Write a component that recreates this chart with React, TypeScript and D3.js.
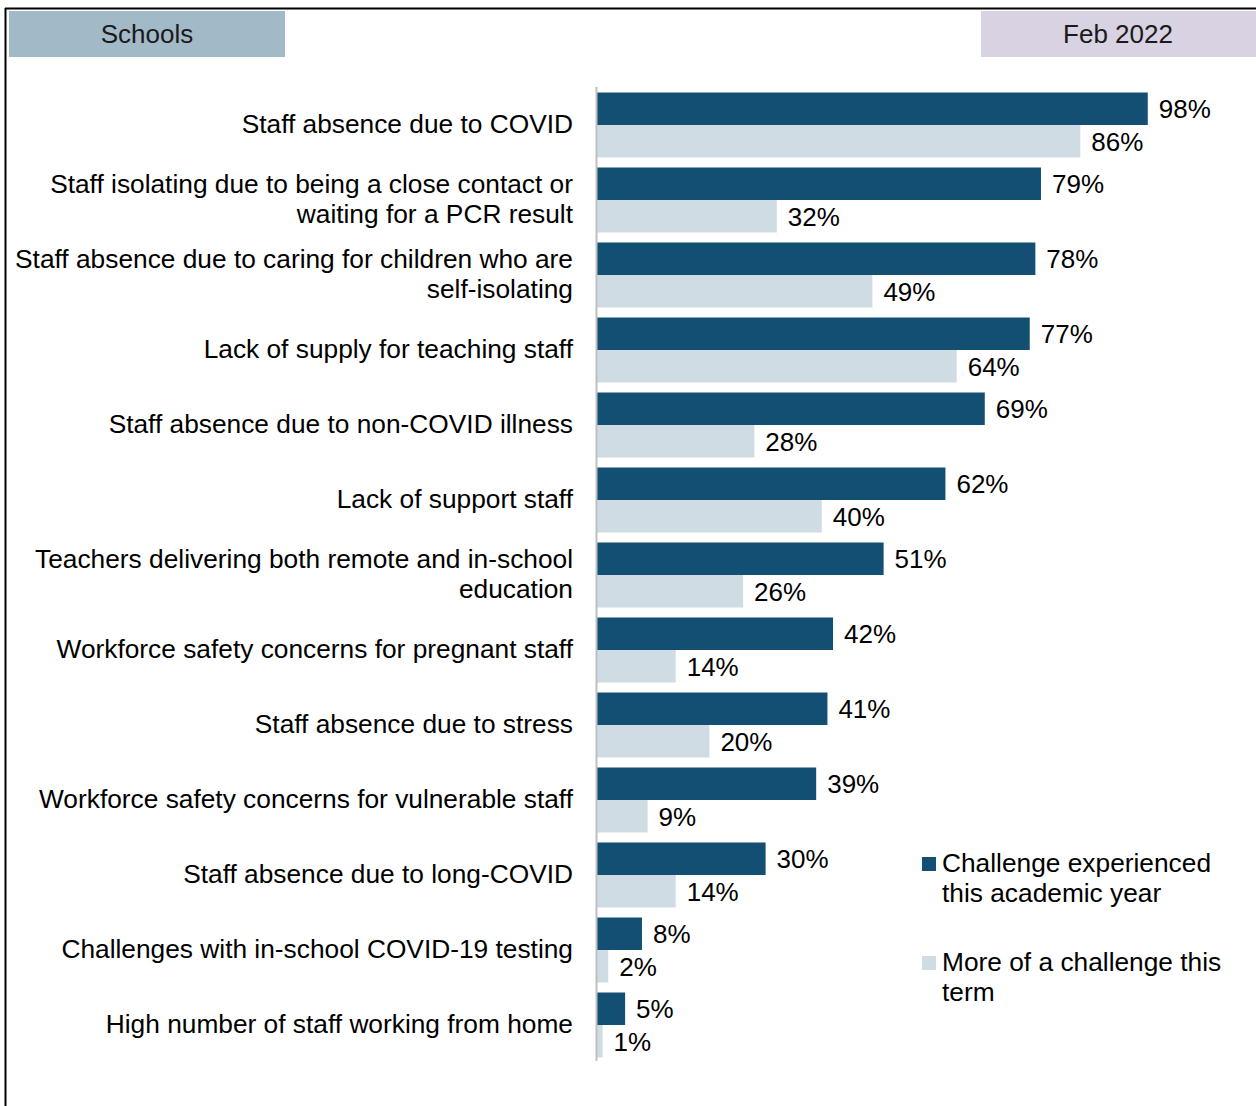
import React from "react";
import * as d3 from "d3";

const categories: string[][] = [
  ["Staff absence due to COVID"],
  ["Staff isolating due to being a close contact or", "waiting for a PCR result"],
  ["Staff absence due to caring for children who are", "self-isolating"],
  ["Lack of supply for teaching staff"],
  ["Staff absence due to non-COVID illness"],
  ["Lack of support staff"],
  ["Teachers delivering both remote and in-school", "education"],
  ["Workforce safety concerns for pregnant staff"],
  ["Staff absence due to stress"],
  ["Workforce safety concerns for vulnerable staff"],
  ["Staff absence due to long-COVID"],
  ["Challenges with in-school COVID-19 testing"],
  ["High number of staff working from home"],
];
const experienced = [98, 79, 78, 77, 69, 62, 51, 42, 41, 39, 30, 8, 5];
const moreChallenge = [86, 32, 49, 64, 28, 40, 26, 14, 20, 9, 14, 2, 1];
const seriesNames = [
  ["Challenge experienced", "this academic year"],
  ["More of a challenge this", "term"],
];
const headerLeft = "Schools";
const headerRight = "Feb 2022";

const DARK = "#134f73";
const LIGHT = "#d0dce4";
const FONT = "'Liberation Sans', Arial, sans-serif";

export default function App() {
  const W = 1256, H = 1106;
  const x0 = 597;
  const x = d3.scaleLinear().domain([0, 100]).range([x0, x0 + 562]);
  const y = d3
    .scaleBand<number>()
    .domain(d3.range(categories.length))
    .range([87.5, 1062.5])
    .paddingInner(10 / 75)
    .paddingOuter(5 / 75);
  const bh = y.bandwidth() / 2;
  const fs = 26;
  const lfs = 26.3;

  return (
    <svg
      width={W}
      height={H}
      style={{ position: "absolute", left: 0, top: 0, fontFamily: FONT }}
    >
      <rect x={0} y={0} width={W} height={H} fill="#fff" />
      {/* frame */}
      <line x1={5} x2={W} y1={8.5} y2={8.5} stroke="#000" strokeWidth={2} />
      <line x1={5.5} x2={5.5} y1={8} y2={H} stroke="#000" strokeWidth={2} />
      {/* headers */}
      <rect x={9} y={11} width={276} height={46} fill="#a2b9c8" />
      <text x={147} y={34} fontSize={fs} textAnchor="middle" dominantBaseline="central" fill="#1a1a1a">
        {headerLeft}
      </text>
      <rect x={981} y={11} width={W - 981} height={46} fill="#d8d2e2" />
      <text x={1118} y={34} fontSize={fs} textAnchor="middle" dominantBaseline="central" fill="#1a1a1a">
        {headerRight}
      </text>

      {categories.map((lines, i) => {
        const top = y(i)!;
        const cy = top + y.bandwidth() / 2;
        const lh = 30;
        return (
          <g key={i}>
            <rect x={x(0)} y={top} width={x(experienced[i]) - x(0)} height={bh} fill={DARK} />
            <rect x={x(0)} y={top + bh} width={x(moreChallenge[i]) - x(0)} height={bh} fill={LIGHT} />
            <text
              x={x(experienced[i]) + 11}
              y={top + bh / 2 + 0.5}
              fontSize={fs}
              dominantBaseline="central"
              fill="#000"
            >
              {experienced[i]}%
            </text>
            <text
              x={x(moreChallenge[i]) + 11}
              y={top + bh * 1.5 + 0.5}
              fontSize={fs}
              dominantBaseline="central"
              fill="#000"
            >
              {moreChallenge[i]}%
            </text>
            {lines.map((t, j) => (
              <text
                key={j}
                x={573}
                y={cy - 1 + (j - (lines.length - 1) / 2) * lh}
                fontSize={lfs}
                textAnchor="end"
                dominantBaseline="central"
                fill="#000"
              >
                {t}
              </text>
            ))}
          </g>
        );
      })}
      {/* axis line */}
      <line x1={596.5} x2={596.5} y1={87} y2={1061} stroke="#bfbfbf" strokeWidth={2} />

      {/* legend */}
      {seriesNames.map((lines, k) => {
        const ly = 863 + k * 99;
        return (
          <g key={k}>
            <rect x={922} y={ly - 6} width={14} height={14} fill={k === 0 ? DARK : LIGHT} />
            {lines.map((t, j) => (
              <text key={j} x={942} y={ly - 0.5 + j * 30} fontSize={lfs} dominantBaseline="central" fill="#000">
                {t}
              </text>
            ))}
          </g>
        );
      })}
    </svg>
  );
}
